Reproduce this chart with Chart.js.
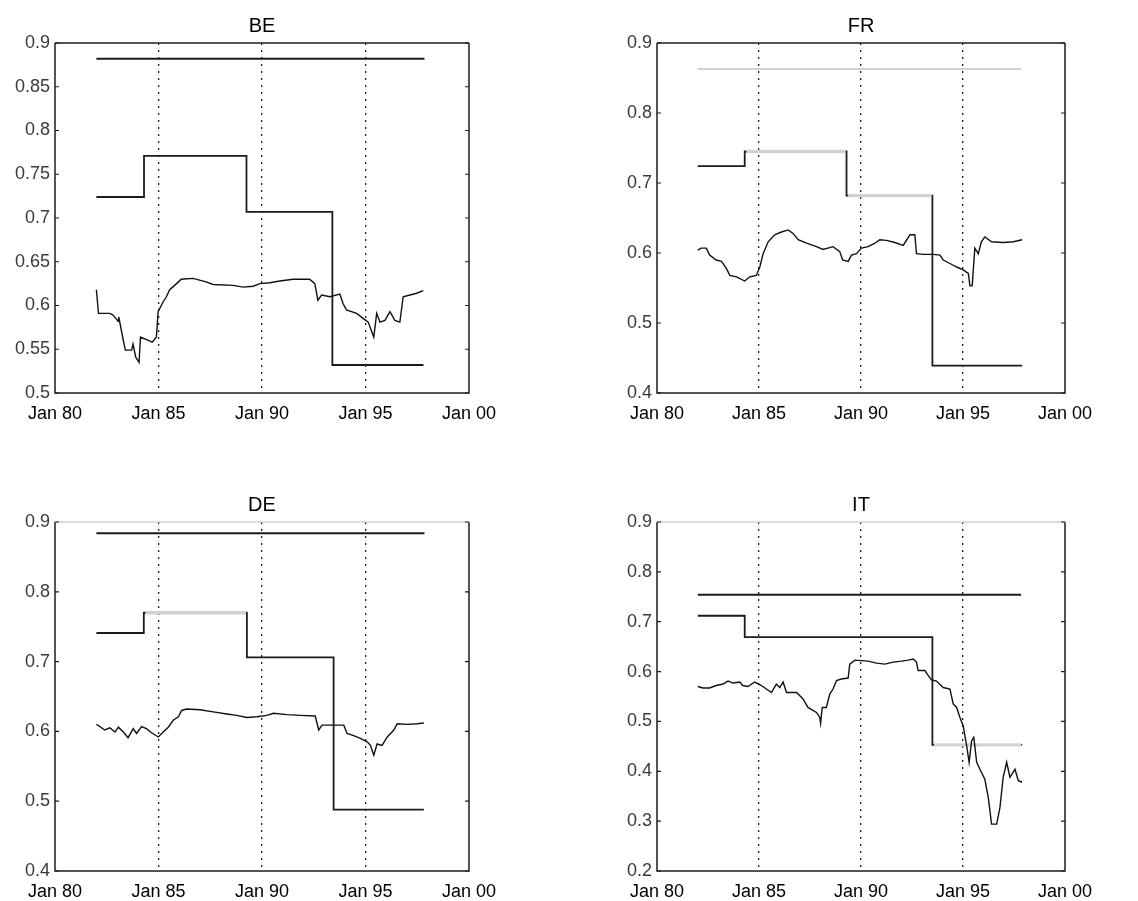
<!DOCTYPE html>
<html lang="en">
<head>
<meta charset="UTF-8" />
<title>BE FR DE IT</title>
<style>
  body { margin: 0; background: #fff; }
  .panel { position: absolute; }
</style>
</head>
<body>
<div class="panel" style="left:0;top:0;width:569px;height:440px"><canvas id="be"></canvas></div>
<div class="panel" style="left:602px;top:0;width:536px;height:440px"><canvas id="fr"></canvas></div>
<div class="panel" style="left:0;top:479px;width:569px;height:422px"><canvas id="de"></canvas></div>
<div class="panel" style="left:602px;top:479px;width:536px;height:422px"><canvas id="it"></canvas></div>

<script src="https://cdn.jsdelivr.net/npm/chart.js"></script>
<script>
// x axis (decimal years)
const xTicks = [1980, 1985, 1990, 1995, 2000];
const xLabels = ["Jan 80", "Jan 85", "Jan 90", "Jan 95", "Jan 00"];
const span = [1982.0, 1997.85];

// BE
const beYTicks = [0.5, 0.55, 0.6, 0.65, 0.7, 0.75, 0.8, 0.85, 0.9];
const beYLabels = ["0.5", "0.55", "0.6", "0.65", "0.7", "0.75", "0.8", "0.85", "0.9"];
const beUpper = 0.882;
const beStepDates = [1982.0, 1984.3, 1989.25, 1993.4, 1997.8];
const beStepValues = [0.724, 0.771, 0.707, 0.532, 0.532];
const beDates = [1982.0, 1982.1, 1982.65, 1982.8, 1982.95, 1983.05, 1983.08, 1983.3, 1983.4, 1983.7,
  1983.77, 1983.9, 1984.06, 1984.13, 1984.42, 1984.7, 1984.9, 1984.98, 1985.22, 1985.38,
  1985.54, 1985.78, 1986.1, 1986.67, 1987.3, 1987.64, 1988.6, 1989.1, 1989.57, 1989.9,
  1990.38, 1990.86, 1991.5, 1992.3, 1992.55, 1992.7, 1992.88, 1993.28, 1993.76, 1993.92,
  1994.08, 1994.57, 1994.9, 1995.13, 1995.4, 1995.54, 1995.7, 1995.94, 1996.18, 1996.42,
  1996.66, 1996.82, 1997.15, 1997.47, 1997.79];
const beValues = [0.618, 0.591, 0.591, 0.589, 0.585, 0.582, 0.587, 0.560, 0.549, 0.549,
  0.556, 0.541, 0.535, 0.564, 0.561, 0.558, 0.564, 0.593, 0.604, 0.610,
  0.618, 0.623, 0.630, 0.631, 0.627, 0.624, 0.623, 0.621, 0.622, 0.625,
  0.626, 0.628, 0.630, 0.630, 0.625, 0.606, 0.612, 0.610, 0.613, 0.602,
  0.595, 0.591, 0.585, 0.581, 0.564, 0.591, 0.581, 0.583, 0.593, 0.583,
  0.581, 0.610, 0.612, 0.614, 0.617];

// FR
const frYTicks = [0.4, 0.5, 0.6, 0.7, 0.8, 0.9];
const frYLabels = ["0.4", "0.5", "0.6", "0.7", "0.8", "0.9"];
const frUpper = 0.863;
const frStepDates = [1982.0, 1984.3, 1989.29, 1993.5, 1997.9];
const frStepValues = [0.724, 0.745, 0.682, 0.439, 0.439];
const frDates = [1982.0, 1982.16, 1982.42, 1982.58, 1982.9, 1983.16, 1983.4, 1983.57, 1983.9, 1984.3,
  1984.55, 1984.87, 1985.04, 1985.2, 1985.45, 1985.77, 1986.1, 1986.43, 1986.67, 1986.92,
  1987.33, 1987.82, 1988.14, 1988.63, 1988.96, 1989.1, 1989.37, 1989.53, 1989.78, 1990.02,
  1990.35, 1990.68, 1990.92, 1991.25, 1991.66, 1992.07, 1992.4, 1992.64, 1992.72, 1993.05,
  1993.54, 1993.87, 1994.03, 1994.36, 1994.69, 1995.01, 1995.26, 1995.34, 1995.45, 1995.58,
  1995.75, 1995.9, 1996.07, 1996.4, 1996.97, 1997.47, 1997.9];
const frValues = [0.604, 0.607, 0.607, 0.597, 0.590, 0.588, 0.578, 0.568, 0.566, 0.560,
  0.566, 0.568, 0.580, 0.599, 0.616, 0.626, 0.630, 0.633, 0.628, 0.619,
  0.614, 0.609, 0.605, 0.609, 0.602, 0.590, 0.588, 0.597, 0.599, 0.607,
  0.609, 0.614, 0.619, 0.618, 0.615, 0.611, 0.626, 0.626, 0.599, 0.598,
  0.598, 0.597, 0.590, 0.585, 0.580, 0.576, 0.571, 0.553, 0.553, 0.607,
  0.599, 0.616, 0.623, 0.616, 0.615, 0.616, 0.619];

// DE
const deYTicks = [0.4, 0.5, 0.6, 0.7, 0.8, 0.9];
const deYLabels = ["0.4", "0.5", "0.6", "0.7", "0.8", "0.9"];
const deUpper = 0.884;
const deStepDates = [1982.0, 1984.29, 1989.27, 1993.46, 1997.82];
const deStepValues = [0.741, 0.770, 0.706, 0.488, 0.488];
const deDates = [1982.0, 1982.16, 1982.4, 1982.65, 1982.9, 1983.06, 1983.3, 1983.53, 1983.78, 1983.94,
  1984.18, 1984.42, 1984.66, 1984.99, 1985.23, 1985.47, 1985.71, 1985.96, 1986.12, 1986.36,
  1987.0, 1987.65, 1988.3, 1988.78, 1989.27, 1989.75, 1990.23, 1990.56, 1991.2, 1991.85,
  1992.57, 1992.74, 1992.9, 1993.46, 1993.95, 1994.11, 1994.43, 1994.75, 1995.08, 1995.24,
  1995.4, 1995.56, 1995.8, 1996.05, 1996.37, 1996.53, 1997.02, 1997.5, 1997.82];
const deValues = [0.610, 0.607, 0.602, 0.605, 0.599, 0.606, 0.599, 0.591, 0.604, 0.597,
  0.607, 0.604, 0.598, 0.592, 0.599, 0.606, 0.616, 0.621, 0.630, 0.632,
  0.631, 0.628, 0.625, 0.623, 0.620, 0.621, 0.623, 0.626, 0.624, 0.623,
  0.622, 0.602, 0.609, 0.609, 0.609, 0.597, 0.594, 0.590, 0.585, 0.580,
  0.566, 0.582, 0.580, 0.592, 0.602, 0.611, 0.610, 0.611, 0.612];

// IT
const itYTicks = [0.2, 0.3, 0.4, 0.5, 0.6, 0.7, 0.8, 0.9];
const itYLabels = ["0.2", "0.3", "0.4", "0.5", "0.6", "0.7", "0.8", "0.9"];
const itUpper = 0.754;
const itStepDates = [1982.0, 1984.3, 1993.5, 1997.9];
const itStepValues = [0.712, 0.669, 0.453, 0.453];
const itDates = [1982.0, 1982.25, 1982.58, 1982.9, 1983.24, 1983.48, 1983.73, 1984.06, 1984.2, 1984.46,
  1984.79, 1985.12, 1985.36, 1985.61, 1985.85, 1986.02, 1986.18, 1986.35, 1986.84, 1987.16,
  1987.4, 1987.82, 1987.98, 1988.02, 1988.1, 1988.3, 1988.47, 1988.63, 1988.8, 1989.04,
  1989.37, 1989.45, 1989.7, 1990.02, 1990.35, 1990.76, 1991.17, 1991.58, 1991.99, 1992.31,
  1992.56, 1992.72, 1992.8, 1993.13, 1993.3, 1993.46, 1993.7, 1994.03, 1994.36, 1994.52,
  1994.69, 1994.85, 1995.01, 1995.18, 1995.3, 1995.42, 1995.53, 1995.67, 1995.83, 1996.07,
  1996.24, 1996.4, 1996.65, 1996.81, 1996.97, 1997.14, 1997.3, 1997.55, 1997.71, 1997.9];
const itValues = [0.570, 0.567, 0.567, 0.572, 0.575, 0.581, 0.577, 0.579, 0.572, 0.570,
  0.579, 0.572, 0.565, 0.558, 0.575, 0.568, 0.579, 0.558, 0.558, 0.545,
  0.528, 0.518, 0.508, 0.496, 0.528, 0.528, 0.555, 0.565, 0.582, 0.585,
  0.587, 0.615, 0.623, 0.622, 0.621, 0.617, 0.615, 0.619, 0.621, 0.623,
  0.625, 0.619, 0.602, 0.602, 0.592, 0.583, 0.581, 0.568, 0.565, 0.535,
  0.528, 0.508, 0.491, 0.451, 0.418, 0.461, 0.468, 0.418, 0.404, 0.384,
  0.347, 0.294, 0.294, 0.327, 0.388, 0.418, 0.388, 0.404, 0.381, 0.378];

const DARK = "#1c1c1c";
const LIGHT = "#d2d2d2";
const FONT = "'Liberation Sans', Arial, sans-serif";

// draws box + inward y ticks on both sides
const framePlugin = {
  id: "frame",
  afterDatasetsDraw(chart, args, opts) {
    const { ctx, chartArea: { left, right, top, bottom }, scales: { y } } = chart;
    ctx.save();
    ctx.lineWidth = 1.5;
    ctx.strokeStyle = DARK;
    ctx.beginPath();
    ctx.moveTo(left, top);
    ctx.lineTo(left, bottom);
    ctx.lineTo(right, bottom);
    ctx.lineTo(right, top);
    ctx.stroke();
    ctx.strokeStyle = opts.topColor || DARK;
    ctx.beginPath();
    ctx.moveTo(left, top);
    ctx.lineTo(right, top);
    ctx.stroke();
    ctx.strokeStyle = DARK;
    ctx.lineWidth = 1.2;
    y.ticks.forEach((t) => {
      const py = y.getPixelForValue(t.value);
      ctx.beginPath();
      ctx.moveTo(left, py);
      ctx.lineTo(left + 4, py);
      ctx.moveTo(right, py);
      ctx.lineTo(right - 4, py);
      ctx.stroke();
    });
    ctx.restore();
  },
};

function pts(xs, ys) {
  return xs.map((x, i) => ({ x: x, y: ys[i] }));
}

function makePanel(id, p) {
  const datasets = [
    { data: pts(span, [p.upper, p.upper]), borderColor: p.upperColor || DARK, borderWidth: 2, order: 3 },
    { data: pts(p.stepDates, p.stepValues), borderColor: DARK, borderWidth: 1.8, stepped: true, order: 2 },
  ];
  // light (faded) horizontal pieces of the step line, drawn on top of it
  (p.light || []).forEach((i) => {
    datasets.push({
      data: pts([p.stepDates[i] + 0.08, p.stepDates[i + 1] - 0.04], [p.stepValues[i], p.stepValues[i]]),
      borderColor: LIGHT,
      borderWidth: 3.4,
      order: 1,
    });
  });
  datasets.push({ data: pts(p.dates, p.values), borderColor: "#111", borderWidth: 1.4, order: 0 });

  new Chart(document.getElementById(id), {
    type: "line",
    data: { datasets },
    options: {
      responsive: true,
      maintainAspectRatio: false,
      animation: false,
      elements: { point: { radius: 0 }, line: { tension: 0 } },
      layout: { padding: { left: 0, right: p.padRight, top: 0, bottom: 0 } },
      scales: {
        x: {
          type: "linear",
          min: 1980,
          max: 2000,
          afterBuildTicks: (s) => { s.ticks = xTicks.map((v) => ({ value: v })); },
          afterFit: (s) => { s.height = p.xHeight; },
          ticks: {
            callback: (v, i) => xLabels[i],
            color: "#000",
            font: { family: FONT, size: 18 },
            padding: 10,
            maxRotation: 0,
            autoSkip: false,
          },
          grid: {
            drawTicks: false,
            lineWidth: 1.3,
            color: (c) => (c.tick && (c.tick.value === 1980 || c.tick.value === 2000) ? "rgba(0,0,0,0)" : DARK),
          },
          border: { display: false, dash: [2, 5] },
        },
        y: {
          min: p.yTicks[0],
          max: p.yTicks[p.yTicks.length - 1],
          afterBuildTicks: (s) => { s.ticks = p.yTicks.map((v) => ({ value: v })); },
          afterFit: (s) => { s.width = 55; },
          ticks: {
            callback: (v, i) => p.yLabels[i],
            color: "#3a3a3a",
            font: { family: FONT, size: 18 },
            padding: 5,
          },
          grid: { display: false, drawTicks: false },
          border: { display: false },
        },
      },
      plugins: {
        legend: { display: false },
        title: {
          display: true,
          text: p.title,
          fullSize: false,
          color: "#000",
          font: { family: FONT, size: 20, weight: "normal" },
          padding: { top: 14, bottom: 5 },
        },
        frame: { topColor: p.topColor },
      },
    },
    plugins: [framePlugin],
  });
}

makePanel("be", {
  title: "BE", upper: beUpper, stepDates: beStepDates, stepValues: beStepValues,
  dates: beDates, values: beValues, yTicks: beYTicks, yLabels: beYLabels,
  padRight: 100, xHeight: 47,
});
makePanel("fr", {
  title: "FR", upper: frUpper, upperColor: LIGHT, stepDates: frStepDates, stepValues: frStepValues,
  dates: frDates, values: frValues, yTicks: frYTicks, yLabels: frYLabels, light: [1, 2],
  padRight: 73, xHeight: 47,
});
makePanel("de", {
  title: "DE", upper: deUpper, stepDates: deStepDates, stepValues: deStepValues,
  dates: deDates, values: deValues, yTicks: deYTicks, yLabels: deYLabels, light: [1],
  padRight: 100, xHeight: 30, topColor: LIGHT,
});
makePanel("it", {
  title: "IT", upper: itUpper, stepDates: itStepDates, stepValues: itStepValues,
  dates: itDates, values: itValues, yTicks: itYTicks, yLabels: itYLabels, light: [2],
  padRight: 73, xHeight: 30, topColor: LIGHT,
});
</script>
</body>
</html>
